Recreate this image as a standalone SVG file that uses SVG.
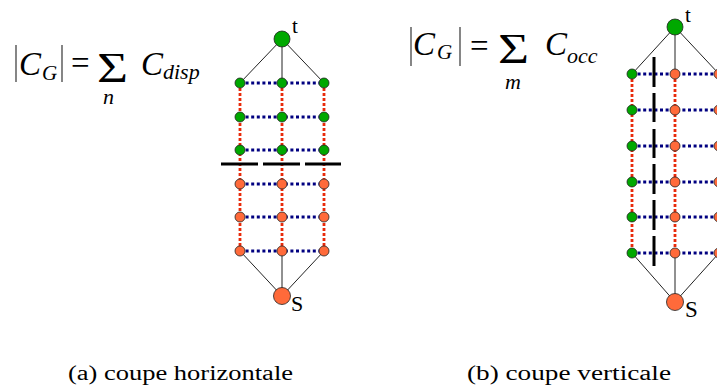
<svg xmlns="http://www.w3.org/2000/svg" width="717" height="390" viewBox="0 0 717 390">
<rect width="717" height="390" fill="#fff"/>

<g id="formula-a">
<g stroke="#444" stroke-width="1.3">
<line x1="16" y1="45" x2="16" y2="82"/>
<line x1="62" y1="45" x2="62" y2="82"/>
</g>
<text font-family="Liberation Serif" font-style="italic" x="19" y="75" font-size="33">C</text>
<text font-family="Liberation Serif" font-style="italic" x="42" y="80" font-size="21">G</text>
<text font-family="Liberation Serif" x="71" y="74" font-size="33">=</text>
<text font-family="Liberation Serif" x="97" y="82" font-size="42" textLength="31" lengthAdjust="spacingAndGlyphs">Σ</text>
<text font-family="Liberation Serif" font-style="italic" x="103" y="104" font-size="22">n</text>
<text font-family="Liberation Serif" font-style="italic" x="141" y="75" font-size="33">C</text>
<text font-family="Liberation Serif" font-style="italic" x="163" y="79" font-size="22">disp</text>
</g>

<g id="formula-b">
<g stroke="#444" stroke-width="1.3">
<line x1="411" y1="27" x2="411" y2="66"/>
<line x1="460" y1="27" x2="460" y2="66"/>
</g>
<text font-family="Liberation Serif" font-style="italic" x="413" y="55" font-size="33">C</text>
<text font-family="Liberation Serif" font-style="italic" x="437" y="59" font-size="21">G</text>
<text font-family="Liberation Serif" x="470" y="57" font-size="33">=</text>
<text font-family="Liberation Serif" x="498" y="63" font-size="42" textLength="31" lengthAdjust="spacingAndGlyphs">Σ</text>
<text font-family="Liberation Serif" font-style="italic" x="505" y="89" font-size="22">m</text>
<text font-family="Liberation Serif" font-style="italic" x="545" y="55" font-size="33">C</text>
<text font-family="Liberation Serif" font-style="italic" x="567" y="63" font-size="22">occ</text>
</g>

<g id="connectors" fill="none">
<g id="edges-ts" stroke="#222" stroke-width="1">
<line x1="282" y1="39" x2="240" y2="83"/>
<line x1="282" y1="39" x2="282" y2="83"/>
<line x1="282" y1="39" x2="324" y2="83"/>
<line x1="282" y1="296" x2="240" y2="251"/>
<line x1="282" y1="296" x2="282" y2="251"/>
<line x1="282" y1="296" x2="324" y2="251"/>
<line x1="675" y1="27" x2="632" y2="74"/>
<line x1="675" y1="27" x2="675" y2="74"/>
<line x1="675" y1="27" x2="719" y2="74"/>
<line x1="675" y1="302" x2="632" y2="253"/>
<line x1="675" y1="302" x2="675" y2="253"/>
<line x1="675" y1="302" x2="719" y2="253"/>
</g>
<g id="edges-vertical" stroke="#e82a0a" stroke-width="2.8" stroke-dasharray="3 2">
<line x1="240" y1="83" x2="240" y2="251"/>
<line x1="282" y1="83" x2="282" y2="251"/>
<line x1="324" y1="83" x2="324" y2="251"/>
<line x1="632" y1="74" x2="632" y2="253"/>
<line x1="675" y1="74" x2="675" y2="253"/>
<line x1="719" y1="74" x2="719" y2="253"/>
</g>
<g id="edges-horizontal" stroke="#000080" stroke-width="2.8" stroke-dasharray="3 2.6">
<line x1="240" y1="83" x2="324" y2="83"/>
<line x1="240" y1="117" x2="324" y2="117"/>
<line x1="240" y1="150" x2="324" y2="150"/>
<line x1="240" y1="184" x2="324" y2="184"/>
<line x1="240" y1="217" x2="324" y2="217"/>
<line x1="240" y1="251" x2="324" y2="251"/>
<line x1="632" y1="74" x2="719" y2="74"/>
<line x1="632" y1="110" x2="719" y2="110"/>
<line x1="632" y1="146" x2="719" y2="146"/>
<line x1="632" y1="182" x2="719" y2="182"/>
<line x1="632" y1="217" x2="719" y2="217"/>
<line x1="632" y1="253" x2="719" y2="253"/>
</g>
</g>

<g id="cut-a" stroke="#000" stroke-width="3">
<line x1="221" y1="164" x2="258" y2="164"/>
<line x1="263" y1="164" x2="300" y2="164"/>
<line x1="305" y1="164" x2="341" y2="164"/>
</g>
<g id="cut-b" stroke="#000" stroke-width="3">
<line x1="654" y1="57" x2="654" y2="87"/>
<line x1="654" y1="93" x2="654" y2="122"/>
<line x1="654" y1="129" x2="654" y2="158"/>
<line x1="654" y1="164" x2="654" y2="194"/>
<line x1="654" y1="200" x2="654" y2="230"/>
<line x1="654" y1="236" x2="654" y2="266"/>
</g>

<g id="nodes-a" stroke="#222" stroke-width="0.8">
<g id="a-t"><circle fill="#00a800" cx="282" cy="39" r="8"/><text stroke="none" font-family="Liberation Serif" x="292" y="33" font-size="21">t</text></g>
<g id="a-s"><circle fill="#ff6a3a" cx="282" cy="296" r="8.5"/><text stroke="none" font-family="Liberation Serif" x="291" y="311" font-size="22">S</text></g>
<g id="a-green" fill="#00a800">
<g id="a-n11"><circle cx="240" cy="83" r="5"/></g>
<g id="a-n12"><circle cx="282" cy="83" r="5"/></g>
<g id="a-n13"><circle cx="324" cy="83" r="5"/></g>
<g id="a-n21"><circle cx="240" cy="117" r="5"/></g>
<g id="a-n22"><circle cx="282" cy="117" r="5"/></g>
<g id="a-n23"><circle cx="324" cy="117" r="5"/></g>
<g id="a-n31"><circle cx="240" cy="150" r="5"/></g>
<g id="a-n32"><circle cx="282" cy="150" r="5"/></g>
<g id="a-n33"><circle cx="324" cy="150" r="5"/></g>
</g>
<g id="a-orange" fill="#ff6a3a">
<g id="a-n41"><circle cx="240" cy="184" r="5"/></g>
<g id="a-n42"><circle cx="282" cy="184" r="5"/></g>
<g id="a-n43"><circle cx="324" cy="184" r="5"/></g>
<g id="a-n51"><circle cx="240" cy="217" r="5"/></g>
<g id="a-n52"><circle cx="282" cy="217" r="5"/></g>
<g id="a-n53"><circle cx="324" cy="217" r="5"/></g>
<g id="a-n61"><circle cx="240" cy="251" r="5"/></g>
<g id="a-n62"><circle cx="282" cy="251" r="5"/></g>
<g id="a-n63"><circle cx="324" cy="251" r="5"/></g>
</g>
</g>

<g id="nodes-b" stroke="#222" stroke-width="0.8">
<g id="b-t"><circle fill="#00a800" cx="675" cy="27" r="8"/><text stroke="none" font-family="Liberation Serif" x="685" y="22" font-size="21">t</text></g>
<g id="b-s"><circle fill="#ff6a3a" cx="675" cy="302" r="8.5"/><text stroke="none" font-family="Liberation Serif" x="685" y="317" font-size="23">S</text></g>
<g id="b-green" fill="#00a800">
<g id="b-n11"><circle cx="632" cy="74" r="5"/></g>
<g id="b-n21"><circle cx="632" cy="110" r="5"/></g>
<g id="b-n31"><circle cx="632" cy="146" r="5"/></g>
<g id="b-n41"><circle cx="632" cy="182" r="5"/></g>
<g id="b-n51"><circle cx="632" cy="217" r="5"/></g>
<g id="b-n61"><circle cx="632" cy="253" r="5"/></g>
</g>
<g id="b-orange" fill="#ff6a3a">
<g id="b-n12"><circle cx="675" cy="74" r="5"/></g>
<g id="b-n13"><circle cx="719" cy="74" r="5"/></g>
<g id="b-n22"><circle cx="675" cy="110" r="5"/></g>
<g id="b-n23"><circle cx="719" cy="110" r="5"/></g>
<g id="b-n32"><circle cx="675" cy="146" r="5"/></g>
<g id="b-n33"><circle cx="719" cy="146" r="5"/></g>
<g id="b-n42"><circle cx="675" cy="182" r="5"/></g>
<g id="b-n43"><circle cx="719" cy="182" r="5"/></g>
<g id="b-n52"><circle cx="675" cy="217" r="5"/></g>
<g id="b-n53"><circle cx="719" cy="217" r="5"/></g>
<g id="b-n62"><circle cx="675" cy="253" r="5"/></g>
<g id="b-n63"><circle cx="719" cy="253" r="5"/></g>
</g>
</g>

<g id="captions">
<text font-family="Liberation Serif" font-size="20" x="68" y="380" textLength="225" lengthAdjust="spacingAndGlyphs">(a) coupe horizontale</text>
<text font-family="Liberation Serif" font-size="20" x="467" y="380" textLength="204" lengthAdjust="spacingAndGlyphs">(b) coupe verticale</text>
</g>
</svg>
